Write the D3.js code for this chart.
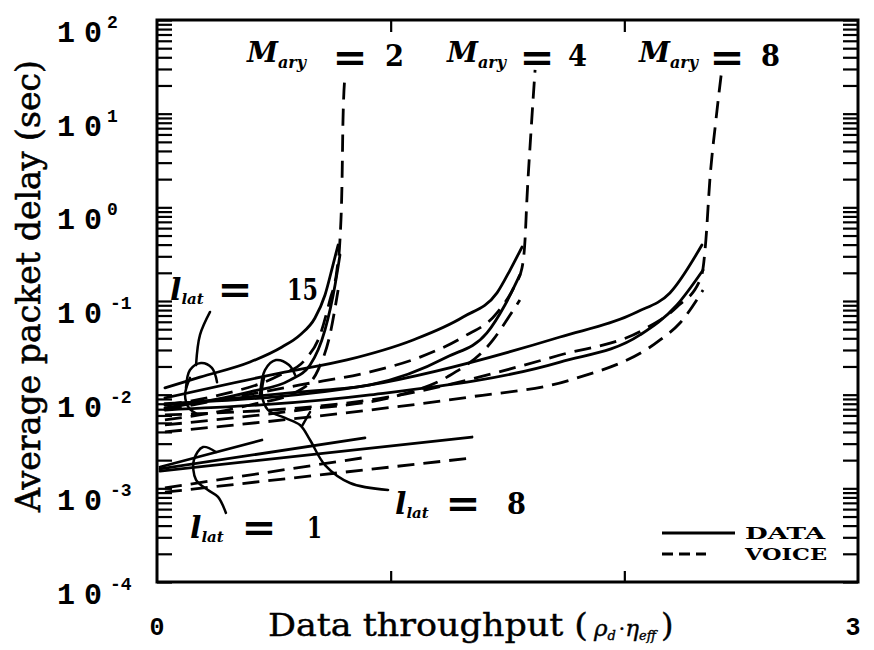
<!DOCTYPE html>
<html>
<head>
<meta charset="utf-8">
<script src="https://cdn.jsdelivr.net/npm/d3@7"></script>
<style>
  body { margin: 0; background: #fff; }
  svg { display: block; }
</style>
</head>
<body>
<svg id="chart" width="874" height="650"></svg>
<script>
// Average packet delay (s) against data throughput (rho_d * eta_eff)
// Each curve: [throughput, delay in seconds]

// Axis ticks
const xInnerTicks = [1, 2];
const xEndLabels = ["0", "3"];
const yDecades = [-4, -3, -2, -1, 0, 1, 2];

// M_ary = 2
const m2Data15  = [[0.034,0.0118],[0.184,0.0154],[0.398,0.0223],[0.535,0.0323],[0.612,0.0434],[0.676,0.0659],[0.719,0.116],[0.753,0.242],[0.775,0.396]];
const m2Voice15 = [[0.034,0.00776],[0.270,0.00993],[0.526,0.0162],[0.633,0.0235],[0.698,0.0434],[0.740,0.1025],[0.770,0.214],[0.783,0.448],[0.792,1.96],[0.796,8.56],[0.805,25.9]];
const m2Data8   = [[0.034,0.00721],[0.398,0.0107],[0.569,0.0143],[0.655,0.0207],[0.719,0.0491],[0.762,0.148],[0.783,0.310]];
const m2Voice8  = [[0.034,0.00537],[0.398,0.00776],[0.612,0.0112],[0.689,0.0183],[0.740,0.0434],[0.775,0.131]];

// M_ary = 4
const m4Data15  = [[0.034,0.00922],[0.526,0.0170],[0.813,0.0235],[1.096,0.0384],[1.310,0.0675],[1.455,0.122],[1.511,0.214],[1.562,0.377]];
const m4Voice15 = [[0.034,0.00686],[0.612,0.0127],[0.912,0.0175],[1.126,0.0252],[1.310,0.0413],[1.455,0.0745],[1.532,0.148],[1.562,0.225],[1.575,0.448],[1.583,1.20],[1.601,6.69],[1.618,29.3]];
const m4Data8   = [[0.034,0.00776],[0.612,0.0107],[0.912,0.0127],[1.241,0.0252],[1.412,0.0456],[1.489,0.0906],[1.553,0.190]];
const m4Voice8  = [[0.034,0.00475],[0.612,0.00686],[1.040,0.00993],[1.241,0.0154],[1.438,0.0384],[1.511,0.0709],[1.553,0.1025]];

// M_ary = 8
const m8Data15  = [[0.034,0.00800],[0.912,0.0127],[1.725,0.0413],[2.054,0.0763],[2.195,0.122],[2.332,0.396]];
const m8Voice15 = [[0.034,0.00607],[0.912,0.00878],[1.725,0.0265],[2.080,0.0491],[2.225,0.0863],[2.324,0.168],[2.337,0.225],[2.349,0.448],[2.366,1.96],[2.392,8.56],[2.418,30.7]];
const m8Data8   = [[0.034,0.00686],[0.912,0.00993],[1.725,0.0223],[2.067,0.0434],[2.225,0.0906],[2.337,0.214]];
const m8Voice8  = [[0.034,0.00400],[0.912,0.00686],[1.339,0.00945],[1.767,0.0143],[2.153,0.0384],[2.238,0.0582],[2.337,0.131]];

// l_lat = 1
const m2Data1  = [[0.013,0.00169],[0.449,0.00328]];
const m4Data1  = [[0.013,0.00161],[0.890,0.00345]];
const m8Data1  = [[0.013,0.00153],[1.348,0.00353]];
const m4Voice1 = [[0.034,0.00101],[0.877,0.00211]];
const m8Voice1 = [[0.034,0.00091],[1.348,0.00211]];

// Bracket / leader strokes for the l_lat call-outs
const lead15 = [[0.227,0.0764],[0.184,0.0434],[0.167,0.0207]];
const cap15  = [[0.124,0.0118],[0.141,0.0183],[0.188,0.0218],[0.235,0.0193],[0.257,0.0136]];
const hook15 = [[0.141,0.0151],[0.120,0.00993],[0.137,0.00721],[0.171,0.00622]];
const lead8  = [[0.989,0.00096],[0.826,0.00114],[0.719,0.00177],[0.655,0.00328],[0.612,0.00474],[0.548,0.00564],[0.475,0.00686],[0.449,0.00993],[0.458,0.0151]];
const cap8   = [[0.441,0.00993],[0.462,0.0183],[0.509,0.0234],[0.565,0.0207],[0.591,0.0162]];
const fork8  = [[0.621,0.00463],[0.655,0.00653]];
const hook1  = [[0.252,0.00244],[0.197,0.00276],[0.158,0.00201],[0.167,0.00123],[0.218,0.00096],[0.261,0.00081],[0.295,0.000546]];

const svg = d3.select("#chart");
const plot = { left: 157, right: 858, top: 20, bottom: 582 };

const x = d3.scaleLinear().domain([0, 3]).range([plot.left, plot.right]);
const y = d3.scaleLog().domain([1e-4, 1e2]).range([plot.bottom, plot.top]);

svg.append("rect").attr("width", 874).attr("height", 650).attr("fill", "#fff");

// Log minor ticks on both vertical edges
const yTickVals = [];
yDecades.forEach(e => {
  if (e < 2) { for (let m = 1; m < 10; m++) yTickVals.push(m * Math.pow(10, e)); }
  else yTickVals.push(Math.pow(10, e));
});

const tickStyle = g => {
  g.select(".domain").remove();
  g.selectAll("line").attr("stroke", "#000").attr("stroke-width", 2.2);
  g.selectAll("text").remove();
};

svg.append("g").attr("transform", `translate(${plot.left},0)`)
  .call(d3.axisRight(y).tickValues(yTickVals).tickSize(15).tickFormat(""))
  .call(tickStyle);
svg.append("g").attr("transform", `translate(${plot.right},0)`)
  .call(d3.axisLeft(y).tickValues(yTickVals).tickSize(15).tickFormat(""))
  .call(tickStyle);
svg.append("g").attr("transform", `translate(0,${plot.bottom})`)
  .call(d3.axisTop(x).tickValues(xInnerTicks).tickSize(11).tickFormat(""))
  .call(tickStyle);
svg.append("g").attr("transform", `translate(0,${plot.top})`)
  .call(d3.axisBottom(x).tickValues(xInnerTicks).tickSize(12).tickFormat(""))
  .call(tickStyle);

// Frame
svg.append("path")
  .attr("d", `M${plot.left},${plot.top}H${plot.right}V${plot.bottom}H${plot.left}Z`)
  .attr("fill", "none").attr("stroke", "#000").attr("stroke-width", 3);

// Decade labels 10^n
const mono = "'Liberation Mono', 'DejaVu Sans Mono', monospace";
yDecades.forEach(e => {
  const yy = y(Math.pow(10, e));
  const t = svg.append("text")
    .attr("x", 57).attr("y", yy + 22)
    .attr("font-family", mono).attr("font-weight", "bold")
    .attr("font-size", 30);
  t.append("tspan").text("1");
  t.append("tspan").attr("dx", 9).text("0");
  svg.append("text")
    .attr("x", e < 0 ? 110 : 107).attr("y", yy + 8)
    .attr("font-family", mono).attr("font-weight", "bold")
    .attr("font-size", 18)
    .text(e < 0 ? "-" + (-e) : String(e));
});

// x end labels
svg.append("text").attr("x", x(0)).attr("y", 635)
  .attr("text-anchor", "middle").attr("font-family", mono).attr("font-weight", "bold")
  .attr("font-size", 25).text(xEndLabels[0]);
svg.append("text").attr("x", x(3) - 5).attr("y", 635)
  .attr("text-anchor", "middle").attr("font-family", mono).attr("font-weight", "bold")
  .attr("font-size", 25).text(xEndLabels[1]);

// Curves
const line = d3.line().x(d => x(d[0])).y(d => y(d[1])).curve(d3.curveMonotoneX);
const solids = [m2Data15, m2Data8, m4Data15, m4Data8, m8Data15, m8Data8, m2Data1, m4Data1, m8Data1];
const dashes = [m2Voice15, m2Voice8, m4Voice15, m4Voice8, m8Voice15, m8Voice8, m4Voice1, m8Voice1];

svg.append("g").selectAll("path").data(solids).join("path")
  .attr("d", line).attr("fill", "none").attr("stroke", "#000")
  .attr("stroke-width", 2.8).attr("stroke-linecap", "round");
svg.append("g").selectAll("path").data(dashes).join("path")
  .attr("d", line).attr("fill", "none").attr("stroke", "#000")
  .attr("stroke-width", 2.8).attr("stroke-dasharray", "17,9");

// Call-out brackets
const free = d3.line().x(d => x(d[0])).y(d => y(d[1])).curve(d3.curveCatmullRom.alpha(0.5));
svg.append("g").selectAll("path").data([lead15, cap15, hook15, lead8, cap8, fork8, hook1]).join("path")
  .attr("d", free).attr("fill", "none").attr("stroke", "#000")
  .attr("stroke-width", 2.5).attr("stroke-linecap", "round");

// Text annotations
const serif = "'DejaVu Serif', 'Liberation Serif', serif";
function eqSign(cx, cy) {
  svg.append("text").attr("x", cx).attr("y", cy + 13)
    .attr("text-anchor", "middle").attr("font-family", serif).attr("font-weight", "bold")
    .attr("font-size", 40).attr("textLength", 35).attr("lengthAdjust", "spacingAndGlyphs")
    .text("=");
}
function mLabel(mx, eqx, vx, val) {
  const t = svg.append("text").attr("x", mx).attr("y", 62)
    .attr("font-family", serif).attr("font-weight", "bold").attr("font-style", "italic")
    .attr("font-size", 28);
  t.append("tspan").text("M");
  t.append("tspan").attr("font-size", 16).attr("dy", 6).text("ary");
  eqSign(eqx, 58);
  svg.append("text").attr("x", vx).attr("y", 66)
    .attr("font-family", serif).attr("font-weight", "bold").attr("font-size", 30)
    .attr("textLength", 19).attr("lengthAdjust", "spacingAndGlyphs").text(val);
}
mLabel(247, 350, 385, "2");
mLabel(447, 537, 568, "4");
mLabel(639, 727, 761, "8");

function lLabel(lx, by, eqx, vx, val, w) {
  const t = svg.append("text").attr("x", lx).attr("y", by)
    .attr("font-family", serif).attr("font-weight", "bold").attr("font-style", "italic")
    .attr("font-size", 30);
  t.append("tspan").text("l");
  t.append("tspan").attr("font-size", 15).attr("dy", 4).text("lat");
  eqSign(eqx, by - 10);
  svg.append("text").attr("x", vx).attr("y", by)
    .attr("font-family", serif).attr("font-weight", "bold").attr("font-size", 30)
    .attr("textLength", w).attr("lengthAdjust", "spacingAndGlyphs").text(val);
}
lLabel(170, 300, 235, 287, "15", 31);
lLabel(395, 514, 463, 507, "8", 19);
lLabel(190, 538, 259, 307, "1", 15);

// Axis titles
svg.append("text")
  .attr("transform", "translate(40,286) rotate(-90)")
  .attr("text-anchor", "middle").attr("font-family", serif)
  .attr("font-size", 34).attr("textLength", 452).attr("lengthAdjust", "spacingAndGlyphs")
  .attr("stroke", "#000").attr("stroke-width", 0.6)
  .text("Average packet delay (sec)");

const xt = svg.append("text").attr("x", 268).attr("y", 636)
  .attr("font-family", serif).attr("font-size", 32)
  .attr("stroke", "#000").attr("stroke-width", 0.4);
xt.append("tspan").attr("textLength", 320).attr("lengthAdjust", "spacingAndGlyphs").text("Data throughput (");
xt.append("tspan").attr("x", 594).attr("font-style", "italic").attr("font-size", 23).text("ρ");
xt.append("tspan").attr("font-style", "italic").attr("font-size", 13).attr("dy", 4).text("d");
xt.append("tspan").attr("font-size", 20).attr("dy", -4).attr("dx", 3).text("·");
xt.append("tspan").attr("font-style", "italic").attr("font-size", 23).text("η");
xt.append("tspan").attr("font-style", "italic").attr("font-size", 13).attr("dy", 4).text("eff");
xt.append("tspan").attr("dy", -4).attr("dx", 5).text(")");

// Legend
svg.append("line").attr("x1", 662).attr("x2", 735).attr("y1", 533).attr("y2", 533)
  .attr("stroke", "#000").attr("stroke-width", 3);
svg.append("line").attr("x1", 662).attr("x2", 706).attr("y1", 554).attr("y2", 554)
  .attr("stroke", "#000").attr("stroke-width", 3).attr("stroke-dasharray", "11,6");
svg.append("text").attr("x", 745).attr("y", 539)
  .attr("font-family", serif).attr("font-weight", "bold").attr("font-size", 16)
  .attr("textLength", 80).attr("lengthAdjust", "spacingAndGlyphs").text("DATA");
svg.append("text").attr("x", 745).attr("y", 560)
  .attr("font-family", serif).attr("font-weight", "bold").attr("font-size", 16)
  .attr("textLength", 82).attr("lengthAdjust", "spacingAndGlyphs").text("VOICE");
</script>
</body>
</html>
